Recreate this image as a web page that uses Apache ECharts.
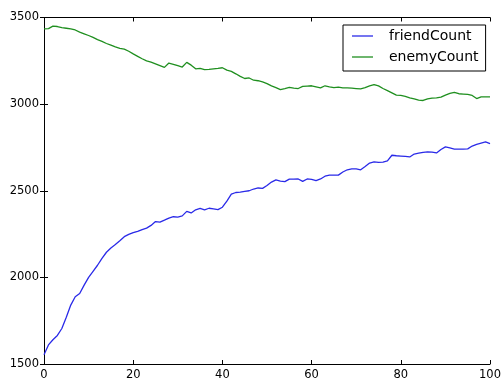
<!DOCTYPE html>
<html>
<head>
<meta charset="utf-8">
<script src="https://cdn.jsdelivr.net/npm/echarts@6/dist/echarts.min.js"></script>
<style>
  html, body { margin: 0; padding: 0; background: #fff; }
  #chart { width: 504px; height: 381px; }
</style>
</head>
<body>
<div id="chart"></div>
<script>
// Step index along the x axis
const steps = Array.from({ length: 101 }, (_, i) => i);

const friendCount = [
  1553, 1610, 1640, 1665, 1705, 1770, 1840, 1888, 1907, 1955,
  2000, 2035, 2070, 2110, 2145, 2170, 2190, 2212, 2235, 2248,
  2258, 2266, 2276, 2284, 2300, 2322, 2319, 2330, 2342, 2350,
  2348, 2355, 2381, 2372, 2390, 2398, 2390, 2399, 2395, 2391,
  2405, 2440, 2480, 2490, 2492, 2496, 2500, 2510, 2516, 2514,
  2530, 2550, 2563, 2556, 2553, 2567, 2567, 2568, 2554, 2568,
  2566, 2558, 2568, 2584, 2590, 2590, 2590, 2608, 2621, 2626,
  2626, 2621, 2640, 2660, 2667, 2664, 2665, 2672, 2705, 2702,
  2700, 2698, 2695, 2712, 2717, 2722, 2724, 2723, 2718, 2738,
  2753, 2747, 2740, 2740, 2740, 2742, 2758, 2768, 2775, 2782,
  2772
];

const enemyCount = [
  3434, 3436, 3450, 3448, 3442, 3438, 3434, 3428, 3416, 3406,
  3396, 3385, 3372, 3362, 3350, 3340, 3330, 3322, 3317, 3305,
  3290, 3276, 3262, 3250, 3242, 3232, 3222, 3212, 3237, 3230,
  3222, 3214, 3241, 3225, 3204, 3206, 3199, 3200, 3203, 3206,
  3210, 3196, 3189, 3175, 3160, 3148, 3151, 3138, 3135, 3128,
  3118, 3105, 3095, 3084, 3090, 3097, 3092, 3090, 3102, 3104,
  3106, 3100, 3094, 3106, 3100, 3095, 3098, 3094, 3094, 3092,
  3090, 3088, 3095, 3105, 3113, 3105, 3090, 3078, 3065, 3052,
  3050, 3045, 3036, 3030, 3023, 3021, 3030, 3035, 3036, 3040,
  3052, 3062, 3068, 3060, 3058, 3056, 3050, 3032, 3042, 3042,
  3042
];

const xTicks = { min: 0, max: 100, interval: 20 };
const yTicks = { min: 1500, max: 3500, interval: 500 };

const font = 'DejaVu Sans';
const frame = { show: true, lineStyle: { color: '#000', width: 1 } };
const innerTick = { show: true, inside: true, length: 4, lineStyle: { color: '#000', width: 1 } };
const plain = (v) => String(v);

const chart = echarts.init(document.getElementById('chart'), null, { renderer: 'canvas' });

chart.setOption({
  animation: false,
  backgroundColor: '#fff',
  grid: { left: 44, right: 9.5, top: 17.5, bottom: 15 },
  legend: {
    orient: 'vertical',
    left: 343,
    top: 25,
    padding: [4, 7, 7, 9],
    itemWidth: 21,
    itemHeight: 14,
    itemGap: 7,
    icon: 'path://M0,0L21,0L21,1.3L0,1.3Z',
    borderColor: '#000',
    borderWidth: 1,
    borderRadius: 0,
    backgroundColor: '#fff',
    textStyle: { fontFamily: font, fontSize: 14, color: '#000', padding: [0, 0, 0, 11] },
    data: ['friendCount', 'enemyCount']
  },
  xAxis: [
    {
      type: 'value', position: 'bottom', ...xTicks,
      axisLine: frame, axisTick: innerTick, splitLine: { show: false },
      axisLabel: { fontFamily: font, fontSize: 11.5, color: '#000', margin: 5, formatter: plain }
    },
    {
      type: 'value', position: 'top', ...xTicks,
      axisLine: frame, axisTick: innerTick, splitLine: { show: false },
      axisLabel: { show: false }
    }
  ],
  yAxis: [
    {
      type: 'value', position: 'left', ...yTicks,
      axisLine: frame, axisTick: innerTick, splitLine: { show: false },
      axisLabel: { fontFamily: font, fontSize: 11.5, color: '#000', margin: 5, formatter: plain }
    },
    {
      type: 'value', position: 'right', ...yTicks,
      axisLine: frame, axisTick: innerTick, splitLine: { show: false },
      axisLabel: { show: false }
    }
  ],
  series: [
    {
      name: 'friendCount', type: 'line', symbol: 'none',
      data: steps.map((s, i) => [s, friendCount[i]]),
      lineStyle: { color: '#2a2ae8', width: 1.3 },
      itemStyle: { color: '#2a2ae8' }
    },
    {
      name: 'enemyCount', type: 'line', symbol: 'none',
      data: steps.map((s, i) => [s, enemyCount[i]]),
      lineStyle: { color: '#1f8f1f', width: 1.3 },
      itemStyle: { color: '#1f8f1f' }
    }
  ]
});
</script>
</body>
</html>
